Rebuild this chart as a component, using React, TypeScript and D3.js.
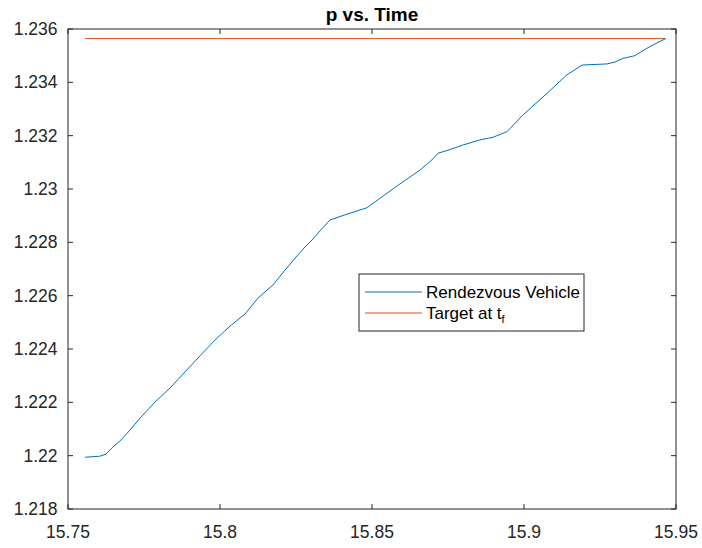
import React from "react";
import * as d3 from "d3";

const timeValues = [
  15.7556, 15.7579, 15.7605, 15.7625, 15.7648, 15.7671, 15.7704, 15.7737, 15.7786, 15.7836,
  15.7885, 15.7934, 15.7984, 15.8033, 15.8082, 15.8125, 15.8174, 15.8214, 15.8247, 15.828,
  15.8303, 15.8329, 15.8362, 15.8411, 15.8484, 15.8549, 15.8592, 15.8658, 15.8697, 15.8717,
  15.8757, 15.8799, 15.8855, 15.8898, 15.8944, 15.8997, 15.9076, 15.9141, 15.9191, 15.9234,
  15.9273, 15.9299, 15.9326, 15.9365, 15.9405, 15.9431, 15.9466,
];
const pValues = [
  1.21994, 1.21996, 1.21998, 1.22006, 1.22033, 1.22055, 1.22096, 1.22141, 1.22201, 1.22254,
  1.22314, 1.22374, 1.22434, 1.22486, 1.22531, 1.22591, 1.2264, 1.22696, 1.22741, 1.22783,
  1.22809, 1.22843, 1.22884, 1.22903, 1.2293, 1.22984, 1.23019, 1.23071, 1.23109, 1.23134,
  1.23148, 1.23165, 1.23184, 1.23194, 1.23215, 1.23278, 1.23359, 1.23428, 1.23465, 1.23467,
  1.23469, 1.23476, 1.2349, 1.235, 1.23528, 1.23544, 1.23564,
];
const targetTimes = [15.7556, 15.9466];
const targetP = [1.23564, 1.23564];

const xTicks = [15.75, 15.8, 15.85, 15.9, 15.95];
const xTickLabels = ["15.75", "15.8", "15.85", "15.9", "15.95"];
const yTicks = [1.218, 1.22, 1.222, 1.224, 1.226, 1.228, 1.23, 1.232, 1.234, 1.236];
const yTickLabels = ["1.218", "1.22", "1.222", "1.224", "1.226", "1.228", "1.23", "1.232", "1.234", "1.236"];
const seriesNames = ["Rendezvous Vehicle", "Target at t"];
const titleText = "p vs. Time";

const W = 702;
const H = 548;
const L = 68, R = 676, T = 29, B = 509;
const FONT = "'Liberation Sans', Arial, Helvetica, sans-serif";
const AX = "#262626";
const BLUE = "#0072BD";
const ORANGE = "#D95319";

export default function App() {
  const x = d3.scaleLinear().domain([15.75, 15.95]).range([L, R]);
  const y = d3.scaleLinear().domain([1.218, 1.236]).range([B, T]);
  const line = d3.line<[number, number]>().x(d => x(d[0])).y(d => y(d[1]));
  const vehicle = timeValues.map((t, i) => [t, pValues[i]] as [number, number]);
  const target = targetTimes.map((t, i) => [t, targetP[i]] as [number, number]);
  const tl = 5;

  const legX = 359, legY = 274, legW = 225, legH = 57;

  return (
    <svg width={W} height={H} style={{ position: "absolute", left: 0, top: 0, background: "#fff" }} fontFamily={FONT}>
      <rect x={0} y={0} width={W} height={H} fill="#fff" />
      <text x={(L + R) / 2} y={20.5} textAnchor="middle" fontSize={19} fontWeight="bold" fill="#000">{titleText}</text>
      <g>
        <path d={line(target) || ""} fill="none" stroke={ORANGE} strokeWidth={1} />
        <path d={line(vehicle) || ""} fill="none" stroke={BLUE} strokeWidth={1} strokeLinejoin="round" />
      </g>
      <g stroke={AX} strokeWidth={1} fill="none">
        <rect x={L} y={T} width={R - L} height={B - T} />
        {xTicks.map((v, i) => (
          <g key={"xt" + i}>
            <line x1={x(v)} x2={x(v)} y1={B} y2={B - tl} />
            <line x1={x(v)} x2={x(v)} y1={T} y2={T + tl} />
          </g>
        ))}
        {yTicks.map((v, i) => (
          <g key={"yt" + i}>
            <line x1={L} x2={L + tl} y1={y(v)} y2={y(v)} />
            <line x1={R} x2={R - tl} y1={y(v)} y2={y(v)} />
          </g>
        ))}
      </g>
      <g fontSize={17.5} fill={AX}>
        {xTicks.map((v, i) => (
          <text key={"xl" + i} x={x(v)} y={537.5} textAnchor="middle">{xTickLabels[i]}</text>
        ))}
        {yTicks.map((v, i) => (
          <text key={"yl" + i} x={57.5} y={y(v) + 6} textAnchor="end">{yTickLabels[i]}</text>
        ))}
      </g>
      <g>
        <rect x={legX} y={legY} width={legW} height={legH} fill="#fff" stroke={AX} strokeWidth={1} />
        <line x1={365} x2={422} y1={292} y2={292} stroke={BLUE} strokeWidth={1} />
        <line x1={365} x2={422} y1={313} y2={313} stroke={ORANGE} strokeWidth={1} />
        <text x={426} y={297.5} fontSize={17} fill="#000">{seriesNames[0]}</text>
        <text x={426} y={318.5} fontSize={17} fill="#000">
          {seriesNames[1]}
          <tspan fontSize={11} dy={4}>f</tspan>
        </text>
      </g>
    </svg>
  );
}
